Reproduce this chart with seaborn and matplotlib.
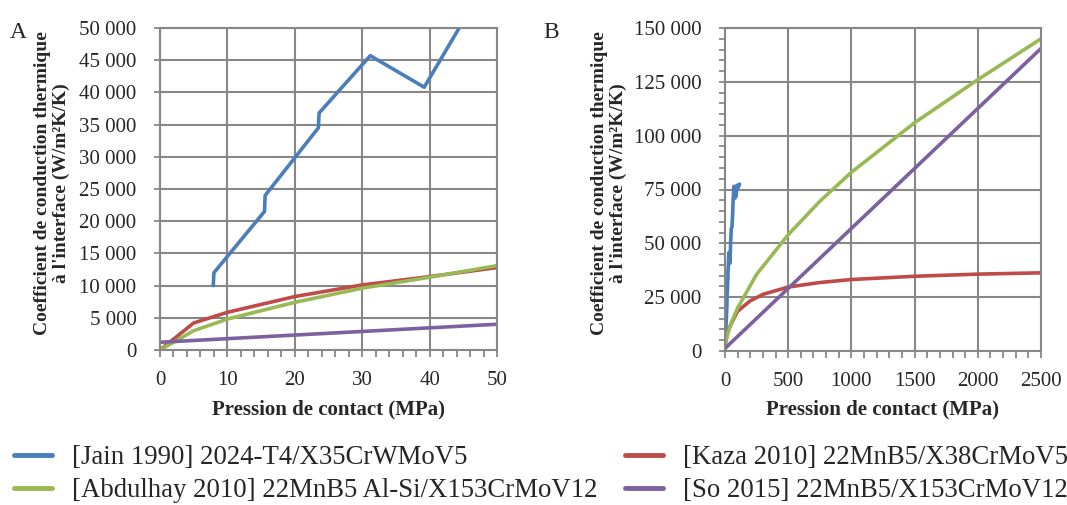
import numpy as np
import pandas as pd
import matplotlib
matplotlib.use("Agg")
import matplotlib.pyplot as plt
from matplotlib.ticker import FuncFormatter, MultipleLocator
import seaborn as sns

# data (pressure in MPa, h in W/m2K)
jain_p = [7.9, 8.0, 15.5, 15.6, 23.5, 23.6, 31.2, 39.2, 44.5, 50, 55, 60, 65, 72, 80, 88, 95, 105, 115]
jain_h = [10000, 12000, 21500, 24000, 34500, 36800, 45700, 40800, 50200, 57000, 57500, 63000,
          71000, 76500, 71000, 72000, 77000, 76000, 77500]

kaza_p = [0, 5, 10, 20, 30, 40, 50, 100, 200, 300, 500, 750, 1000, 1500, 2000, 2500]
kaza_h = [0, 4200, 5850, 8300, 10100, 11400, 12800, 18500, 23300, 26300, 29700, 31800,
          33200, 34700, 35700, 36300]

abdul_p = [0, 5, 10, 20, 30, 40, 50, 100, 250, 500, 750, 1000, 1500, 2000, 2500]
abdul_h = [0, 3000, 4800, 7400, 9600, 11300, 13100, 20000, 35600, 54000, 69500, 83000,
           106000, 126000, 145000]

so_p = [0, 50, 2500]
so_h = [1200, 4000, 140500]

labels = ["[Jain 1990] 2024-T4/X35CrWMoV5",
          "[Abdulhay 2010] 22MnB5 Al-Si/X153CrMoV12",
          "[Kaza 2010] 22MnB5/X38CrMoV5",
          "[So 2015] 22MnB5/X153CrMoV12"]
colors = ["#4A7EBB", "#98B954", "#BE4B48", "#7D60A0"]

frames = []
for lab, p, h in zip(labels, [jain_p, abdul_p, kaza_p, so_p], [jain_h, abdul_h, kaza_h, so_h]):
    frames.append(pd.DataFrame({"p": p, "h": h, "serie": lab}))
df = pd.concat(frames, ignore_index=True)

sns.set_style("white")
plt.rcParams["font.family"] = ["Liberation Serif", "DejaVu Serif"]

W, H = 1067, 505
fig = plt.figure(figsize=(W / 100, H / 100), dpi=100)
axA = fig.add_axes([160 / W, 1 - 350 / H, 337 / W, 322 / H])
axB = fig.add_axes([725 / W, 1 - 351 / H, 316 / W, 323 / H])

fmt = FuncFormatter(lambda v, pos: f"{int(v):,}".replace(",", " "))
draw_order = [labels[0], labels[2], labels[1], labels[3]]
palette = dict(zip(labels, colors))
grid_c = "#878787"

for ax in (axA, axB):
    for lab in draw_order:
        sub = df[df["serie"] == lab]
        sns.lineplot(data=sub, x="p", y="h", ax=ax, color=palette[lab], lw=2.6,
                     sort=False, estimator=None, legend=False)
    ax.grid(True, color=grid_c, lw=1.5)
    for s in ax.spines.values():
        s.set_color(grid_c)
        s.set_linewidth(1.5)
    ax.yaxis.set_major_formatter(fmt)
    ax.tick_params(axis="both", which="both", direction="out", color=grid_c, width=1.3,
                   labelsize=15, left=True, bottom=True)
    ax.tick_params(axis="x", which="both", length=5, pad=10)
    ax.tick_params(axis="y", which="both", length=4, pad=13)
    ax.set_xlabel("")
    ax.set_ylabel("")

axA.set_xlim(0, 50)
axA.set_ylim(0, 50000)
axA.xaxis.set_major_locator(MultipleLocator(10))
axA.xaxis.set_minor_locator(MultipleLocator(2))
axA.yaxis.set_major_locator(MultipleLocator(5000))

axB.set_xlim(0, 2500)
axB.set_ylim(0, 150000)
axB.xaxis.set_major_locator(MultipleLocator(500))
axB.xaxis.set_minor_locator(MultipleLocator(100))
axB.yaxis.set_major_locator(MultipleLocator(25000))
axB.yaxis.set_minor_locator(MultipleLocator(5000))

ylab = "Coefficient de conduction thermique\nà l'interface (W/m²K/K)"
xlab = "Pression de contact (MPa)"
for xc_y, xc_x in [(52, 328), (609, 883)]:
    fig.text(xc_y / W, 1 - 183 / H, ylab, rotation=90, ha="center", va="center",
             multialignment="center", fontsize=14, fontweight="bold", linespacing=1.15)
    fig.text(xc_x / W, 1 - 409 / H, xlab, ha="center", va="center",
             fontsize=15, fontweight="bold")

fig.text(10 / W, 1 - 38 / H, "A", fontsize=17)
fig.text(543 / W, 1 - 38 / H, "B", fontsize=17)

handles = [plt.Line2D([], [], color=c, lw=3.5) for c in colors]
common = dict(frameon=False, fontsize=19.3, handlelength=1.42, handletextpad=0.75,
              labelspacing=0.3, borderpad=0, borderaxespad=0, loc="center left")
fig.legend(handles[:2], labels[:2], bbox_to_anchor=(14 / W, 1 - 474 / H), **common)
fig.legend(handles[2:], labels[2:], bbox_to_anchor=(625 / W, 1 - 474 / H), **common)

fig.savefig("out.png", dpi=100)
